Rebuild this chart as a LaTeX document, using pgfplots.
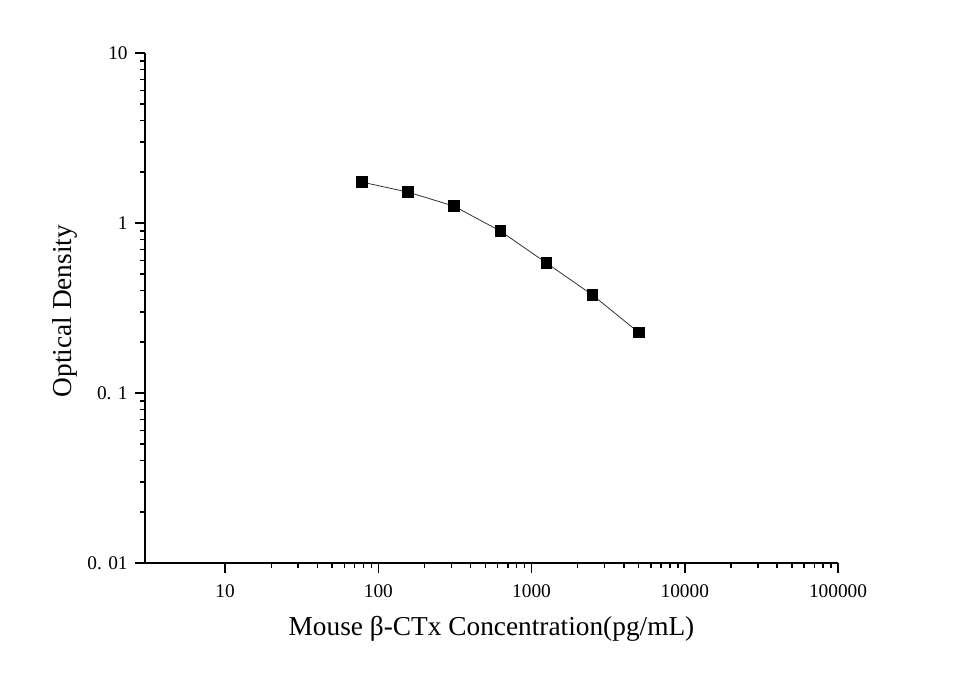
\documentclass[border=0pt]{standalone}
\usepackage{pgfplots}
\pgfplotsset{compat=1.18}
\usepackage{fontspec}
\setmainfont{Liberation Serif}
\begin{document}
\begin{tikzpicture}
\useasboundingbox (0,0) rectangle (717.75pt,506.25pt);
\begin{axis}[
at={(108.75pt,84pt)}, anchor=south west,
scale only axis,
width=519.75pt, height=382.5pt,
xmode=log, ymode=log,
xmin=3, xmax=100000,
ymin=0.01, ymax=10,
axis x line=bottom, axis y line=left,
axis line style={-, line width=1.4pt},
tick align=outside,
major tick length=7.5pt, minor tick length=3.75pt,
every tick/.style={black, line width=1.1pt},
xtick={10,100,1000,10000,100000},
xticklabels={10,100,1000,10000,100000},
ytick={0.01,0.1,1,10},
yticklabels={0. 01,0. 1,1,10},
tick label style={font=\fontsize{14.5}{16}\selectfont},
xticklabel style={yshift=-5pt},
yticklabel style={xshift=-2pt},
xlabel={Mouse β-CTx Concentration(pg/mL)},
ylabel={Optical Density},
label style={font=\fontsize{20.5}{23}\selectfont},
xlabel style={at={(axis description cs:0.5,-0.1294)}, anchor=center},
ylabel style={at={(axis description cs:-0.1154,0.494)}, anchor=center},
clip=false,
]
\addplot [black!80, line width=0.6pt, mark=square*, mark size=4pt, mark options={solid, fill=black, draw=black}]
table {%
78.125 1.74
156.25 1.52
312.5 1.255
625 0.897
1250 0.582
2500 0.377
5000 0.227
};
\end{axis}
\end{tikzpicture}
\end{document}
